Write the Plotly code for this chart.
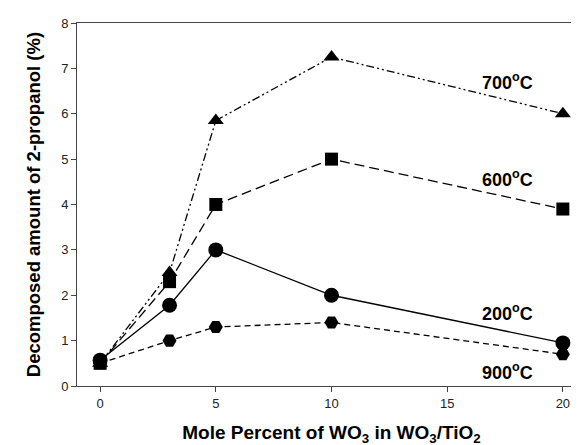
import plotly.graph_objects as go

x_mol = [0, 3, 5, 10, 20]
y_200 = [0.57, 1.78, 3.0, 2.0, 0.95]
y_600 = [0.5, 2.3, 4.0, 5.0, 3.9]
y_700 = [0.5, 2.5, 5.85, 7.25, 6.0]
y_900 = [0.5, 1.0, 1.3, 1.4, 0.7]

labels = ["700<sup>o</sup>C", "600<sup>o</sup>C", "200<sup>o</sup>C", "900<sup>o</sup>C"]
label_x = [17.6, 17.6, 17.6, 17.6]
label_y = [6.7, 4.58, 1.63, 0.33]

fig = go.Figure()
series = [
    (y_900, "hexagon2", "6px,4px", 14),
    (y_200, "circle", "solid", 15),
    (y_600, "square", "10px,5px", 13),
    (y_700, "triangle-up", "8px,3px,2px,3px,2px,3px", 14),
]
for ys, sym, dash, ms in series:
    fig.add_trace(go.Scatter(
        x=x_mol, y=ys, mode="lines+markers",
        line=dict(color="black", width=1.3, dash=dash),
        marker=dict(symbol=sym, size=ms, color="black"),
        showlegend=False,
    ))

for t, lx, ly in zip(labels, label_x, label_y):
    fig.add_annotation(x=lx, y=ly, text=t, showarrow=False,
                       font=dict(family="Arial, Liberation Sans", size=18, color="black", weight="bold"))

fig.add_annotation(xref="paper", yref="paper", x=-0.085, y=0.5, xanchor="center", yanchor="middle",
                   textangle=-90, showarrow=False,
                   text="<b>Decomposed amount of 2-propanol (%)</b>",
                   font=dict(family="Arial, Liberation Sans", size=18.5, color="black"))

fig.update_layout(
    width=579, height=445,
    margin=dict(l=69, r=1, t=15, b=67),
    plot_bgcolor="white", paper_bgcolor="white",
    font=dict(family="Arial, Liberation Sans", color="black"),
)
fig.update_xaxes(
    range=[-1, 21], tickvals=[0, 5, 10, 15, 20], ticks="outside", ticklen=5,
    showgrid=False, zeroline=False, showline=True, linecolor="#444", linewidth=1,
    mirror=True, tickfont=dict(size=13, color="#222"),
    title=dict(text="<b>Mole Percent of WO<sub>3</sub> in WO<sub>3</sub>/TiO<sub>2</sub></b>",
               font=dict(size=19), standoff=16),
)
fig.update_yaxes(
    range=[0, 8], tickvals=list(range(0, 9)), ticks="outside", ticklen=5,
    showgrid=False, zeroline=False, showline=True, linecolor="#444", linewidth=1,
    mirror=True, tickfont=dict(size=13, color="#222"),
)
fig.write_html("out.html")
